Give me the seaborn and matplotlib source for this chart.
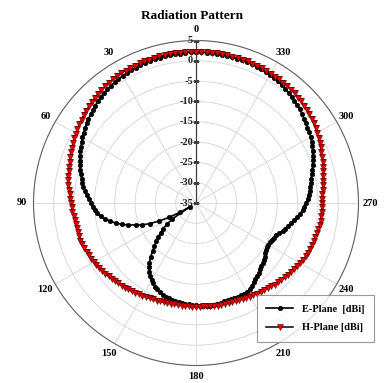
import numpy as np
import matplotlib
matplotlib.use("Agg")
import matplotlib.pyplot as plt
import matplotlib.transforms as mtransforms
import seaborn as sns

# ---------------- data ----------------
angles_deg = list(range(0, 360, 2))

e_plane_left = [2.1, 2.1, 2.1, 2.0, 2.0, 2.0, 1.9, 1.9, 1.8, 1.7,
                1.7, 1.6, 1.5, 1.4, 1.3, 1.1, 1.0, 0.8, 0.7, 0.5,
                0.3, 0.1, -0.2, -0.5, -0.8, -1.1, -1.4, -1.7, -2.0, -2.4,
                -2.7, -3.1, -3.5, -3.8, -4.2, -4.6, -5.0, -5.4, -5.8, -6.2,
                -6.6, -7.0, -7.5, -8.0, -8.6, -9.1, -9.6, -10.0, -10.5, -11.3,
                -12.3, -13.4, -14.6, -16.0, -17.5, -19.2, -20.6, -22.5, -24.8, -27.5,
                -30.4, -33.2, -28.0, -26.2, -24.8, -23.6, -22.5, -21.4, -20.2, -19.0,
                -17.6, -16.4, -15.4, -14.5, -13.8, -13.1, -12.6, -12.1, -11.7, -11.3,
                -11.0, -10.8, -10.7, -10.5, -10.4, -10.3, -10.2, -10.1, -10.0, -9.9]
e_plane_right = [-9.8, -9.7, -9.6, -9.6, -9.5, -9.5, -9.6, -9.7, -9.8, -9.9,
                 -9.9, -9.9, -9.8, -9.7, -9.6, -9.7, -10.0, -10.4, -10.9, -11.3,
                 -11.6, -11.9, -12.3, -12.6, -12.9, -13.3, -13.6, -13.9, -14.2, -14.4,
                 -14.5, -14.4, -14.3, -14.1, -13.7, -13.2, -12.6, -12.1, -11.6, -11.0,
                 -10.4, -9.9, -9.3, -8.7, -8.3, -7.9, -7.5, -7.2, -6.9, -6.6,
                 -6.3, -6.0, -5.6, -5.2, -4.8, -4.4, -4.0, -3.6, -3.2, -2.8,
                 -2.4, -2.1, -1.9, -1.6, -1.3, -0.9, -0.6, -0.3, -0.1, 0.2,
                 0.5, 0.7, 0.9, 1.1, 1.3, 1.4, 1.5, 1.6, 1.7, 1.8,
                 1.9, 1.9, 2.0, 2.0, 2.0, 2.1, 2.1, 2.1, 2.1, 2.1]

h_plane_left = [2.2, 2.2, 2.2, 2.2, 2.2, 2.2, 2.2, 2.2, 2.1, 2.1,
                2.1, 2.1, 2.0, 2.0, 1.9, 1.9, 1.8, 1.7, 1.6, 1.4,
                1.3, 1.1, 0.9, 0.7, 0.5, 0.3, 0.1, -0.2, -0.4, -0.6,
                -0.9, -1.1, -1.3, -1.6, -1.8, -2.1, -2.3, -2.5, -2.7, -2.9,
                -3.1, -3.3, -3.5, -3.8, -4.0, -4.2, -4.4, -4.5, -4.7, -4.8,
                -4.9, -5.0, -5.0, -5.1, -5.1, -5.2, -5.3, -5.5, -5.6, -5.8,
                -5.9, -6.1, -6.3, -6.5, -6.7, -6.9, -7.1, -7.3, -7.5, -7.6,
                -7.8, -8.0, -8.1, -8.3, -8.5, -8.6, -8.8, -8.9, -9.0, -9.1,
                -9.2, -9.3, -9.4, -9.4, -9.5, -9.5, -9.5, -9.5, -9.5, -9.5]
h_plane_right = [-9.5, -9.5, -9.5, -9.4, -9.4, -9.3, -9.2, -9.1, -9.1, -9.0,
                 -9.0, -8.9, -8.8, -8.7, -8.6, -8.4, -8.3, -8.1, -7.9, -7.8,
                 -7.6, -7.4, -7.1, -6.9, -6.7, -6.5, -6.3, -6.1, -5.8, -5.6,
                 -5.4, -5.2, -5.0, -4.9, -4.7, -4.6, -4.5, -4.4, -4.3, -4.2,
                 -4.1, -4.0, -4.0, -4.0, -4.0, -4.0, -3.9, -3.8, -3.6, -3.4,
                 -3.2, -3.0, -2.7, -2.5, -2.2, -2.0, -1.7, -1.4, -1.1, -0.8,
                 -0.5, -0.2, 0.0, 0.2, 0.4, 0.6, 0.8, 1.0, 1.1, 1.3,
                 1.4, 1.5, 1.6, 1.7, 1.7, 1.8, 1.9, 1.9, 2.0, 2.0,
                 2.1, 2.1, 2.1, 2.1, 2.2, 2.2, 2.2, 2.2, 2.2, 2.2]

e_plane = e_plane_left + e_plane_right
h_plane = h_plane_left + h_plane_right

theta_labels = ["0", "30", "60", "90", "120", "150", "180", "210", "240", "270", "300", "330"]
r_ticks = [-35, -30, -25, -20, -15, -10, -5, 0, 5]
title = "Radiation Pattern"
series_names = ["E-Plane  [dBi]", "H-Plane [dBi]"]

# ---------------- figure ----------------
SERIF = "Liberation Serif"
fig = plt.figure(figsize=(3.84, 3.83), dpi=100)
ax = fig.add_axes([33.5 / 384, (383 - 365.5) / 383, 325 / 384, 325 / 383], projection="polar")
ax.set_theta_zero_location("N")
ax.set_theta_direction(1)

# close the curves
th = np.deg2rad(angles_deg + [360])
e_closed = e_plane + [e_plane[0]]
h_closed = h_plane + [h_plane[0]]

sns.lineplot(x=th, y=e_closed, ax=ax, sort=False, estimator=None,
             color="black", linewidth=1.2, marker="o", markersize=3.4,
             markerfacecolor="black", markeredgecolor="black", markeredgewidth=0.3,
             label=series_names[0], zorder=3)
sns.lineplot(x=th, y=h_closed, ax=ax, sort=False, estimator=None,
             color="black", linewidth=1.1, marker="v", markersize=5.0,
             markerfacecolor="#e00000", markeredgecolor="#600000", markeredgewidth=0.4,
             label=series_names[1], zorder=4)

ax.set_ylim(-35, 5)
ax.set_yticks(r_ticks)
ax.set_yticklabels([])
ax.set_xlabel("")
ax.set_ylabel("")
ax.set_thetagrids(range(0, 360, 30), labels=theta_labels,
                  fontsize=7.5, fontweight="bold", family=SERIF)
ax.tick_params(axis="x", direction="out", length=3.5, width=0.7, color="#555555", pad=-2.3)
ax.grid(True, color="#d4d4d4", linewidth=0.6)
ax.spines["polar"].set_color("#606060")
ax.spines["polar"].set_linewidth(0.8)

# radial axis along 0 deg
ax.plot([0, 0], [-35, 5], color="#404040", linewidth=0.9, zorder=2)
ax.plot(np.zeros(len(r_ticks)), r_ticks, linestyle="none", marker="_",
        markersize=4, color="#404040", markeredgewidth=0.8, zorder=2)
off = mtransforms.offset_copy(ax.transData, fig=fig, x=-3, y=0, units="dots")
for r in r_ticks:
    ax.text(0, r, str(r), transform=off, ha="right", va="center",
            fontsize=7.5, fontweight="bold", family=SERIF, color="#222222", zorder=5)

fig.text(0.5, 1 - 16 / 383, title, ha="center", va="center",
         fontsize=9.5, fontweight="bold", family=SERIF)

leg = ax.legend(loc="upper left", bbox_to_anchor=(257 / 384, (383 - 295) / 383),
                bbox_transform=fig.transFigure, borderaxespad=0,
                prop={"family": SERIF, "weight": "bold", "size": 7.5},
                frameon=True, fancybox=False, edgecolor="#808080",
                handlelength=2.6, labelspacing=0.9, borderpad=0.9)
leg.get_frame().set_linewidth(0.8)

fig.savefig("out.png", dpi=100)
